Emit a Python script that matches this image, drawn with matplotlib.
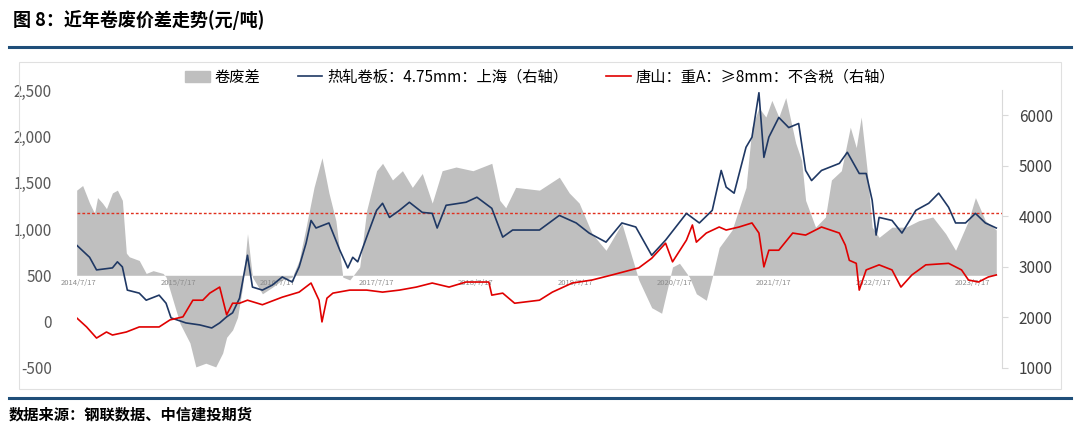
import numpy as np
import matplotlib
matplotlib.use("Agg")
import matplotlib.pyplot as plt
from matplotlib.lines import Line2D
from matplotlib.patches import Rectangle, Patch

plt.rcParams['font.family'] = ['Noto Sans CJK SC', 'DejaVu Sans']

# 热轧卷板 上海 (右轴), x in decimal years
hrc_t = [2014.52, 2014.65, 2014.72, 2014.88, 2014.93, 2014.98, 2015.03, 2015.15, 2015.22, 2015.35,
         2015.42, 2015.47, 2015.62, 2015.76, 2015.88, 2015.96, 2016.03, 2016.09, 2016.16, 2016.24,
         2016.29, 2016.39, 2016.49, 2016.59, 2016.69, 2016.76, 2016.83, 2016.88, 2016.93, 2017.06,
         2017.17, 2017.25, 2017.30, 2017.35, 2017.44, 2017.54, 2017.60, 2017.67, 2017.77, 2017.87,
         2018.00, 2018.10, 2018.15, 2018.24, 2018.44, 2018.55, 2018.70, 2018.81, 2018.91, 2019.18,
         2019.38, 2019.55, 2019.68, 2019.85, 2020.01, 2020.15, 2020.31, 2020.45, 2020.66, 2020.79,
         2020.92, 2021.01, 2021.06, 2021.14, 2021.26, 2021.32, 2021.39, 2021.44, 2021.49, 2021.59,
         2021.69, 2021.79, 2021.86, 2021.92, 2022.02, 2022.20, 2022.28, 2022.40, 2022.47, 2022.53,
         2022.57, 2022.60, 2022.73, 2022.83, 2022.97, 2023.10, 2023.20, 2023.30, 2023.37, 2023.47,
         2023.57, 2023.67, 2023.78]
hrc_v = [3430, 3190, 2940, 2980, 3100, 3000, 2540, 2480, 2340, 2440,
         2280, 1990, 1890, 1850, 1790, 1890, 2010, 2090, 2380, 3230,
         2600, 2540, 2640, 2800, 2700, 3000, 3470, 3920, 3770, 3870,
         3330, 2980, 3190, 3100, 3590, 4120, 4260, 3980, 4120, 4280,
         4080, 4060, 3770, 4220, 4280, 4380, 4160, 3590, 3730, 3730,
         4020, 3870, 3670, 3490, 3870, 3790, 3230, 3530, 4060, 3870,
         4120, 4910, 4580, 4460, 5370, 5570, 6450, 5170, 5570, 5960,
         5760, 5840, 4910, 4710, 4910, 5050, 5270, 4850, 4850, 4320,
         3630, 3980, 3920, 3670, 4120, 4260, 4460, 4180, 3870, 3870,
         4060, 3870, 3770]

# 唐山 重废 (右轴)
scrap_t = [2014.52, 2014.62, 2014.72, 2014.82, 2014.88, 2015.02, 2015.15, 2015.35, 2015.46, 2015.59,
           2015.69, 2015.79, 2015.86, 2015.96, 2016.03, 2016.09, 2016.16, 2016.24, 2016.39, 2016.59,
           2016.76, 2016.88, 2016.96, 2016.99, 2017.04, 2017.10, 2017.27, 2017.44, 2017.60, 2017.77,
           2017.94, 2018.10, 2018.27, 2018.44, 2018.67, 2018.70, 2018.81, 2018.93, 2019.18, 2019.31,
           2019.51, 2019.71, 2019.91, 2020.18, 2020.31, 2020.45, 2020.52, 2020.66, 2020.72, 2020.76,
           2020.86, 2020.99, 2021.06, 2021.19, 2021.32, 2021.39, 2021.44, 2021.49, 2021.59, 2021.73,
           2021.86, 2022.02, 2022.20, 2022.26, 2022.30, 2022.37, 2022.40, 2022.47, 2022.60, 2022.73,
           2022.82, 2022.93, 2023.07, 2023.30, 2023.43, 2023.50, 2023.60, 2023.70, 2023.78]
scrap_v = [1990, 1810, 1590, 1710, 1650, 1710, 1810, 1810, 1950, 2010,
           2340, 2340, 2480, 2600, 2050, 2280, 2280, 2340, 2250, 2400,
           2500, 2680, 2340, 1910, 2380, 2480, 2540, 2540, 2500, 2540,
           2600, 2680, 2600, 2700, 2700, 2440, 2480, 2280, 2340, 2500,
           2680, 2740, 2840, 2980, 3170, 3470, 3100, 3530, 3830, 3490,
           3670, 3790, 3730, 3790, 3870, 3670, 3000, 3330, 3330, 3670,
           3630, 3790, 3670, 3430, 3130, 3070, 2540, 2940, 3040, 2940,
           2600, 2840, 3040, 3070, 2940, 2740, 2700, 2800, 2840]

# 卷废差 (左轴)
spread_t = [2014.52, 2014.58, 2014.65, 2014.70, 2014.73, 2014.78, 2014.82, 2014.88, 2014.93, 2014.98,
            2015.02, 2015.05, 2015.15, 2015.22, 2015.29, 2015.39, 2015.42, 2015.49, 2015.56, 2015.66,
            2015.72, 2015.82, 2015.92, 2015.99, 2016.03, 2016.09, 2016.14, 2016.19, 2016.24, 2016.29,
            2016.39, 2016.49, 2016.59, 2016.69, 2016.76, 2016.83, 2016.91, 2016.99, 2017.06, 2017.13,
            2017.20, 2017.27, 2017.37, 2017.44, 2017.54, 2017.60, 2017.70, 2017.80, 2017.90, 2018.00,
            2018.10, 2018.20, 2018.34, 2018.51, 2018.70, 2018.78, 2018.84, 2018.94, 2019.18, 2019.38,
            2019.48, 2019.58, 2019.71, 2019.85, 2020.01, 2020.11, 2020.18, 2020.31, 2020.41, 2020.52,
            2020.59, 2020.69, 2020.76, 2020.86, 2020.92, 2020.99, 2021.12, 2021.26, 2021.32, 2021.39,
            2021.46, 2021.52, 2021.59, 2021.66, 2021.76, 2021.82, 2021.86, 2021.96, 2022.06, 2022.12,
            2022.22, 2022.31, 2022.37, 2022.42, 2022.48, 2022.53, 2022.60, 2022.73, 2022.87, 2023.00,
            2023.14, 2023.27, 2023.37, 2023.50, 2023.57, 2023.67, 2023.78]
spread_v = [1420, 1470, 1280, 1170, 1340, 1280, 1220, 1390, 1420, 1310,
            740, 700, 660, 520, 550, 520, 480, 230, -20, -230,
            -490, -450, -490, -340, -170, -90, 46, 370, 950, 480,
            300, 370, 450, 480, 660, 1020, 1450, 1770, 1390, 1090,
            480, 450, 590, 1200, 1630, 1710, 1530, 1630, 1450, 1600,
            1280, 1630, 1670, 1630, 1710, 1310, 1230, 1450, 1420, 1560,
            1390, 1280, 950, 770, 1060, 700, 450, 150, 90, 590,
            630, 480, 300, 230, 480, 800, 990, 1450, 2100, 2310,
            2210, 2390, 2210, 2420, 1930, 1740, 1310, 1020, 1130, 1530,
            1630, 2100, 1880, 2210, 1630, 1020, 910, 1020, 1020, 1090,
            1130, 950, 770, 1090, 1340, 1090, 990]

spread_mean = 1170
tick_years = list(range(2014, 2024))

fig = plt.figure(figsize=(10.8, 4.4), dpi=100)
ax = fig.add_axes([0.071, 0.164, 0.857, 0.631])
ax2 = ax.twinx()

ax.fill_between(spread_t, spread_v, 500, color='#bfbfbf', lw=0, zorder=1)
ax.axhline(spread_mean, color='#e0301e', ls=(0, (2, 1.5)), lw=1, zorder=2)
ax2.plot(hrc_t, hrc_v, color='#1f3864', lw=1.2)
ax2.plot(scrap_t, scrap_v, color='#e00000', lw=1.2)

ax.set_xlim(2014.52, 2023.84)
ax.set_ylim(-500, 2500)
ax2.set_ylim(1000, 6500)
ax.set_yticks(range(-500, 2501, 500))
ax.set_yticklabels([f"{v:,}" for v in range(-500, 2501, 500)])
ax2.set_yticks(range(1000, 6001, 1000))

ax.set_xticks([y + 0.54 for y in tick_years])
ax.set_xticklabels([f"{y}/7/17" for y in tick_years])
ax.spines['bottom'].set_position(('data', 500))
ax.spines['bottom'].set_visible(False)
ax.tick_params(axis='x', length=0, pad=3, labelsize=5.5, labelcolor='#8c8c8c')
ax.tick_params(axis='y', length=0, labelsize=11, labelcolor='#595959', pad=18)
ax2.tick_params(axis='y', length=4, color='#d9d9d9', labelsize=11, labelcolor='#404040', pad=8)
for s in ['top', 'right', 'left']:
    ax.spines[s].set_visible(False)
for s in ['top', 'left', 'bottom']:
    ax2.spines[s].set_visible(False)
ax2.spines['right'].set_color('#d9d9d9')
ax.set_zorder(ax2.get_zorder() - 1)
ax2.patch.set_visible(False)

handles = [Patch(color='#bfbfbf'),
           Line2D([], [], color='#1f3864', lw=1.2),
           Line2D([], [], color='#e00000', lw=1.2)]
labels = ['卷废差', '热轧卷板：4.75mm：上海（右轴）', '唐山：重A：≥8mm：不含税（右轴）']
fig.legend(handles, labels, loc='center', bbox_to_anchor=(0.5, 0.825), ncol=3, frameon=False,
           fontsize=11, handlelength=1.6, columnspacing=2.5, handletextpad=0.3)

fig.text(0.012, 0.955, '图 8：近年卷废价差走势(元/吨)', fontsize=13, fontweight='bold', va='center')
fig.add_artist(Line2D([0.008, 0.992], [0.893, 0.893], color='#1f4e79', lw=2.2))
fig.add_artist(Rectangle((0.018, 0.115), 0.964, 0.745, fill=False, ec='#e0e0e0', lw=0.8))
fig.add_artist(Line2D([0.008, 0.992], [0.096, 0.096], color='#1f4e79', lw=2.2))
fig.text(0.008, 0.057, '数据来源：钢联数据、中信建投期货', fontsize=11, fontweight='bold', va='center')

fig.savefig('out.png', dpi=100)
